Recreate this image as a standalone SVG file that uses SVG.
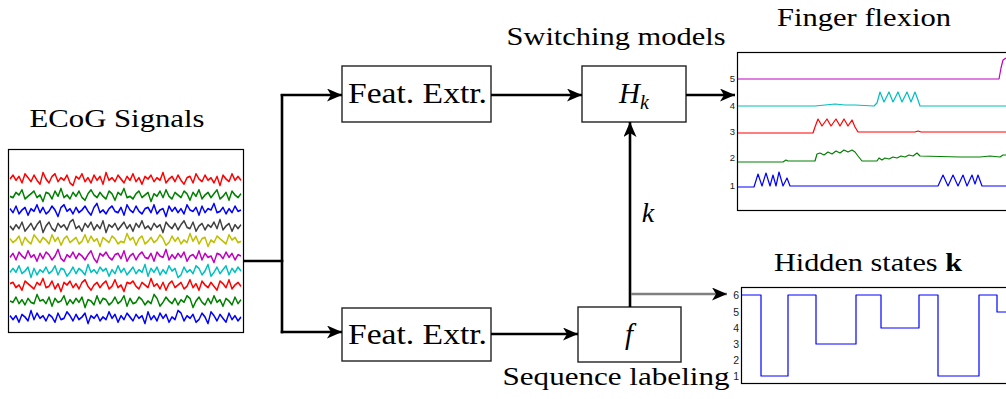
<svg xmlns="http://www.w3.org/2000/svg" xmlns:xlink="http://www.w3.org/1999/xlink" width="1006" height="399" viewBox="0 0 1006 399">
<style>
.title{font-family:"Liberation Serif","DejaVu Serif",serif;font-size:26px;fill:#000}
.box{fill:#fff;stroke:#222;stroke-width:1.4}
.lbl{font-family:"Liberation Serif","DejaVu Serif",serif;font-size:29px;fill:#000}
.math{font-family:"Liberation Serif","DejaVu Serif",serif;font-style:italic;fill:#000}
.tick{font-family:"Liberation Sans",Arial,sans-serif;fill:#222}
.conn{fill:none;stroke:#000;stroke-width:2.6}
.gconn{fill:none;stroke:#808080;stroke-width:2.6}
.sig{fill:none;stroke-width:1.4;stroke-linejoin:round}
.tr{fill:none;stroke-width:1.2;stroke-linejoin:round}
.plot{fill:#fff;stroke:#000;stroke-width:1.2}
</style>
<defs>
<marker id="ah" markerUnits="userSpaceOnUse" markerWidth="16" markerHeight="13" refX="15" refY="6.5" orient="auto">
<path d="M0,0 L15,6.5 L0,13 L4,6.5 Z" fill="#000"/>
</marker>
<polyline id="sA" points="0,0 3,-3 6,1 9,-2 12,3 15,-4 18,-1 21,2 24,-3 27,1 30,4 33,-5 36,0 39,3 42,-2 45,-4 48,2 51,-1 54,1 57,-3 60,3 63,5 66,-2 69,0 72,-4 75,2 78,-1 81,3 84,-3 87,1 90,-2 93,4 96,-5 99,1 102,-1 105,2 108,-3 111,0 114,3 117,-2 120,1 123,-4 126,2 129,-1 132,4 135,-2 138,0 141,-3 144,2 147,-1 150,1 153,-5 156,3 159,0 162,-2 165,2 168,-3 171,1 174,4 177,-1 180,-2 183,3 186,-4 189,0 192,2 195,-3 198,1 201,-1 204,3 207,-2 210,5 213,-3 216,0 219,2 222,-4 225,1 228,-2 231,1"/>
<polyline id="sB" points="0,1 3,2 6,-2 9,0 12,-4 15,3 18,1 21,-1 24,-3 27,2 30,0 33,5 36,-2 39,-1 42,3 45,-3 48,1 51,-5 54,2 57,0 60,3 63,-2 66,1 69,-3 72,2 75,4 78,-1 81,-4 84,0 87,2 90,-2 93,1 96,3 99,-3 102,-1 105,4 108,-2 111,0 114,-5 117,2 120,1 123,3 126,-1 129,-3 132,2 135,0 138,-2 141,5 144,-1 147,1 150,-3 153,2 156,-4 159,1 162,3 165,-2 168,0 171,2 174,-3 177,-1 180,4 183,-2 186,1 189,-4 192,3 195,0 198,-2 201,2 204,-1 207,-4 210,3 213,1 216,-2 219,4 222,-3 225,0 228,2 231,-1"/>
<polyline id="sC" points="0,-1 3,2 6,-3 9,3 12,0 15,-2 18,4 21,-1 24,1 27,-4 30,2 33,-2 36,3 39,1 42,-3 45,0 48,5 51,-2 54,-4 57,1 60,-1 63,3 66,-2 69,2 72,0 75,-3 78,1 81,4 84,-2 87,-5 90,2 93,0 96,3 99,-1 102,-3 105,1 108,2 111,-2 114,4 117,-4 120,0 123,2 126,-3 129,1 132,3 135,-1 138,-2 141,2 144,-4 147,3 150,0 153,-1 156,5 159,-3 162,1 165,-2 168,2 171,-1 174,3 177,-4 180,0 183,1 186,-2 189,4 192,-3 195,2 198,-1 201,0 204,-5 207,2 210,1 213,-2 216,3 219,-1 222,2 225,-3 228,1 231,0"/>
</defs>
<rect width="1006" height="399" fill="#fff"/>

<g id="ecog">
<text class="title" x="117" y="127" text-anchor="middle" textLength="175" lengthAdjust="spacingAndGlyphs">ECoG Signals</text>
<rect x="8.5" y="149.5" width="235" height="183" fill="#fff" stroke="#000" stroke-width="1.2"/>
<use xlink:href="#sA" class="sig" stroke="#ff0000" transform="translate(10,179) scale(1,1.3)"/>
<use xlink:href="#sB" class="sig" stroke="#008000" transform="translate(10,195) scale(1,1.3)"/>
<use xlink:href="#sC" class="sig" stroke="#0000ff" transform="translate(10,210) scale(1,1.3)"/>
<use xlink:href="#sA" class="sig" stroke="#404040" transform="translate(10,226) scale(1,-1.3)"/>
<use xlink:href="#sB" class="sig" stroke="#bfbf00" transform="translate(241,240) scale(-1,1.3)"/>
<use xlink:href="#sC" class="sig" stroke="#bf00bf" transform="translate(10,256) scale(1,-1.3)"/>
<use xlink:href="#sA" class="sig" stroke="#00bfbf" transform="translate(241,271) scale(-1,1.3)"/>
<use xlink:href="#sB" class="sig" stroke="#ff0000" transform="translate(10,285) scale(1,-1.3)"/>
<use xlink:href="#sC" class="sig" stroke="#008000" transform="translate(241,301) scale(-1,1.3)"/>
<use xlink:href="#sA" class="sig" stroke="#0000ff" transform="translate(241,317) scale(-1,-1.3)"/>
</g>

<g id="feat-top">
<rect class="box" x="342" y="66" width="149" height="56"/>
<text class="lbl" x="417.5" y="103" text-anchor="middle" textLength="139" lengthAdjust="spacingAndGlyphs">Feat. Extr.</text>
</g>

<g id="feat-bottom">
<rect class="box" x="342" y="308" width="149" height="53"/>
<text class="lbl" x="417.5" y="344" text-anchor="middle" textLength="139" lengthAdjust="spacingAndGlyphs">Feat. Extr.</text>
</g>

<g id="hk">
<text class="title" x="616" y="45" text-anchor="middle" textLength="219" lengthAdjust="spacingAndGlyphs">Switching models</text>
<rect class="box" x="582" y="66" width="104" height="56"/>
<text class="math" x="619" y="103" font-size="29">H<tspan font-size="20" dy="6">k</tspan></text>
</g>

<g id="f">
<rect class="box" x="578" y="307" width="103" height="55"/>
<text class="math" x="629" y="344" font-size="29" text-anchor="middle">f</text>
<text class="title" x="616" y="385" text-anchor="middle" textLength="227" lengthAdjust="spacingAndGlyphs">Sequence labeling</text>
</g>

<g id="finger">
<text class="title" x="864" y="26" text-anchor="middle" textLength="174" lengthAdjust="spacingAndGlyphs">Finger flexion</text>
<rect class="plot" x="737.5" y="52.5" width="275" height="158"/>
<g class="tick" font-size="9.5" text-anchor="end">
<text x="735" y="82">5</text>
<text x="735" y="109">4</text>
<text x="735" y="135">3</text>
<text x="735" y="161">2</text>
<text x="735" y="189">1</text>
</g>
<polyline class="tr" stroke="#bf00bf" points="738,79 999,79 1001,68 1003,60 1006,58"/>
<polyline class="tr" stroke="#00bfbf" points="738,106 815,106 825,105 835,104 845,105 855,105 874,106 877,103 880,92 884,102 889,92 893,102 898,92 902,102 907,92 911,102 915,92 918,100 920,106 1006,106"/>
<polyline class="tr" stroke="#ff0000" points="738,133 813,133 815,127 818,119 822,126 827,119 831,126 836,119 840,126 844,119 848,126 852,120 855,127 858,132 915,132 918,131 921,132 1006,132"/>
<polyline class="tr" stroke="#008000" points="738,162 783,162 786,160 788,161 815,161 817,154 820,153 824,155 828,152 832,154 836,151 840,153 844,150 848,152 852,150 855,152 858,156 862,161 877,161 879,158 882,160 885,158 889,159 893,157 897,158 901,156 905,157 909,155 913,156 917,153 920,156 960,157 980,157 990,156 1000,157 1003,155 1006,155"/>
<polyline class="tr" stroke="#0000ff" points="738,187 754,187 758,174 762,186 766,173 770,186 773,175 776,186 779,172 783,186 787,178 790,186 938,186 943,175 948,186 953,175 958,186 963,175 967,186 972,175 975,184 978,175 982,186 1006,186"/>
</g>

<g id="hidden">
<text class="title" x="868" y="271" text-anchor="middle" textLength="188" lengthAdjust="spacingAndGlyphs">Hidden states <tspan font-weight="bold">k</tspan></text>
<rect class="plot" x="741.5" y="287.5" width="270" height="96"/>
<g class="tick" font-size="10.5" text-anchor="end">
<text x="739" y="299">6</text>
<text x="739" y="316">5</text>
<text x="739" y="332">4</text>
<text x="739" y="348">3</text>
<text x="739" y="364">2</text>
<text x="739" y="380">1</text>
</g>
<path class="tr" stroke="#0000ff" d="M742,295 H761 V376 H788 V295 H816 V344 H856 V295 H881 V328 H919 V295 H938 V376 H979 V295 H997 V312 H1006"/>
</g>

<g id="connectors">
<line class="conn" x1="243" y1="261" x2="283.3" y2="261"/>
<line class="conn" x1="282" y1="94" x2="282" y2="333.3"/>
<line class="conn" x1="280.7" y1="95" x2="342" y2="95" marker-end="url(#ah)"/>
<line class="conn" x1="280.7" y1="332" x2="342" y2="332" marker-end="url(#ah)"/>
<line class="conn" x1="491" y1="95" x2="582" y2="95" marker-end="url(#ah)"/>
<line class="conn" x1="491" y1="334" x2="578" y2="334" marker-end="url(#ah)"/>
<line class="conn" x1="630" y1="307" x2="630" y2="122" marker-end="url(#ah)"/>
<line class="conn" x1="686" y1="95" x2="735" y2="95" marker-end="url(#ah)"/>
<line class="gconn" x1="631" y1="294" x2="727" y2="294" marker-end="url(#ah)"/>
<text class="math" x="648" y="222" font-size="28" text-anchor="middle">k</text>
</g>
</svg>
